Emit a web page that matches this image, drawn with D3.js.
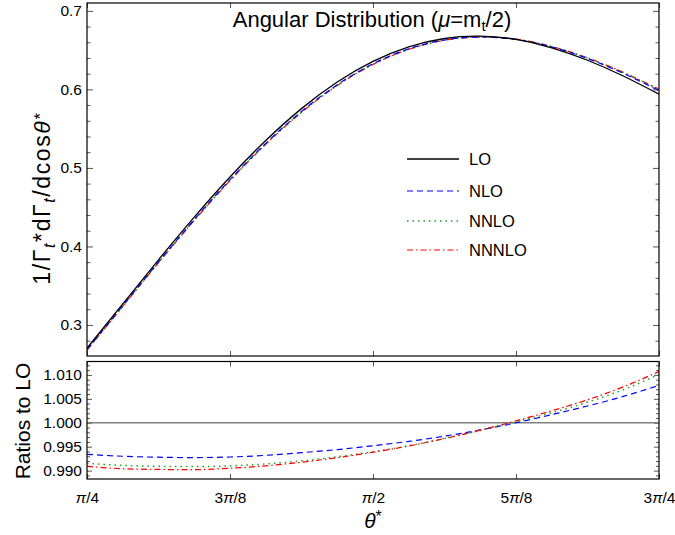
<!DOCTYPE html>
<html>
<head>
<meta charset="utf-8">
<script src="https://cdn.jsdelivr.net/npm/d3@7"></script>
<style>
  html, body { margin: 0; padding: 0; background: #fff; }
  svg { display: block; }
  text { font-family: "Liberation Sans", Arial, sans-serif; fill: #000; }
</style>
</head>
<body>
<svg id="chart" width="675" height="535"></svg>
<script>
// ---------------- data ----------------
// theta in units of pi
const thetaOverPi = [0.25, 0.28125, 0.3125, 0.34375, 0.375, 0.40625, 0.4375, 0.46875, 0.5,
                     0.53125, 0.5625, 0.59375, 0.625, 0.65625, 0.6875, 0.71875, 0.75];
const seriesNames = ["LO", "NLO", "NNLO", "NNNLO"];
const distLO    = [0.2704, 0.3268, 0.3830, 0.4374, 0.4885, 0.5349, 0.5755, 0.6093, 0.6356,
                   0.6541, 0.6648, 0.6677, 0.6636, 0.6530, 0.6371, 0.6170, 0.5939];
const distNLO   = [0.2686, 0.3245, 0.3802, 0.4342, 0.4850, 0.5313, 0.5719, 0.6059, 0.6326,
                   0.6516, 0.6629, 0.6667, 0.6636, 0.6541, 0.6393, 0.6204, 0.5985];
const distNNLO  = [0.2681, 0.3239, 0.3795, 0.4334, 0.4841, 0.5303, 0.5709, 0.6050, 0.6318,
                   0.6510, 0.6626, 0.6666, 0.6637, 0.6544, 0.6398, 0.6213, 0.5999];
const distNNNLO = [0.2679, 0.3237, 0.3793, 0.4331, 0.4839, 0.5301, 0.5707, 0.6049, 0.6317,
                   0.6509, 0.6626, 0.6667, 0.6639, 0.6546, 0.6402, 0.6216, 0.6003];
const ratioNLO   = [0.9934, 0.9930, 0.9928, 0.99273, 0.99285, 0.9932, 0.99375, 0.9944, 0.9952,
                    0.9961, 0.9972, 0.9985, 1.0000, 1.0017, 1.0035, 1.0055, 1.0078];
const ratioNNLO  = [0.9915, 0.9911, 0.9909, 0.99085, 0.9910, 0.9914, 0.99205, 0.9929, 0.99395,
                    0.9952, 0.99675, 0.9984, 1.0002, 1.0021, 1.0043, 1.0069, 1.0101];
const ratioNNNLO = [0.9909, 0.9904, 0.99025, 0.9902, 0.9905, 0.9910, 0.99175, 0.9927, 0.99385,
                    0.99515, 0.9967, 0.99845, 1.0004, 1.0025, 1.0048, 1.0075, 1.0107];
const xTickValues = [0.25, 0.375, 0.5, 0.625, 0.75];
const xTickLabels = ["π/4", "3π/8", "π/2", "5π/8", "3π/4"];
const yTopTicks = [0.3, 0.4, 0.5, 0.6, 0.7];
const yBotTicks = [0.990, 0.995, 1.000, 1.005, 1.010];

// ---------------- layout ----------------
const svg = d3.select("#chart");
const L = 87, R = 659;
const topY0 = 3, topY1 = 356;
const botY0 = 361.5, botY1 = 479;

const x = d3.scaleLinear().domain([0.25, 0.75]).range([L, R]);
const yTop = d3.scaleLinear().domain([0.2605, 0.710]).range([topY1, topY0]);
const yBot = d3.scaleLinear().domain([0.98825, 1.0128]).range([botY1, botY0]);

const styles = [
  { color: "#000000", dash: null, width: 1.3 },
  { color: "#0000ff", dash: "6,4", width: 1.2 },
  { color: "#22a022", dash: "1.5,4", width: 1.5 },
  { color: "#ff0000", dash: "6,3,1.5,3", width: 1.2 }
];
const tickColor = "#555";

// clip paths
const defs = svg.append("defs");
defs.append("clipPath").attr("id", "clipTop").append("rect")
  .attr("x", L).attr("y", topY0).attr("width", R - L).attr("height", topY1 - topY0);
defs.append("clipPath").attr("id", "clipBot").append("rect")
  .attr("x", L).attr("y", botY0).attr("width", R - L).attr("height", botY1 - botY0);

function styleAxis(g) {
  g.select(".domain").remove();
  g.selectAll(".tick line").attr("stroke", tickColor).attr("stroke-width", 1);
  g.selectAll(".tick text").attr("font-size", 15.5).attr("fill", "#000")
    .style("font-family", '"Liberation Sans", Arial, sans-serif');
}

function minorRange(a, b, step) {
  const out = [];
  const n = Math.round((b - a) / step);
  for (let i = 0; i <= n; i++) out.push(+(a + i * step).toFixed(6));
  return out;
}

// ---------- top panel axes ----------
const topMinor = minorRange(0.28, 0.70, 0.02).filter(v => !yTopTicks.some(t => Math.abs(t - v) < 1e-6));
svg.append("g").attr("transform", `translate(${L},0)`)
  .call(d3.axisLeft(yTop).tickValues(topMinor).tickSize(-3.5).tickFormat(""))
  .call(styleAxis);
svg.append("g").attr("transform", `translate(${L},0)`)
  .call(d3.axisLeft(yTop).tickValues(yTopTicks).tickSize(-6).tickPadding(5).tickFormat(d3.format(".1f")))
  .call(styleAxis);
svg.append("g").attr("transform", `translate(${R},0)`)
  .call(d3.axisRight(yTop).tickValues(topMinor).tickSize(-3.5).tickFormat(""))
  .call(styleAxis);
svg.append("g").attr("transform", `translate(${R},0)`)
  .call(d3.axisRight(yTop).tickValues(yTopTicks).tickSize(-6).tickFormat(""))
  .call(styleAxis);
svg.append("g").attr("transform", `translate(0,${topY0})`)
  .call(d3.axisTop(x).tickValues(xTickValues).tickSize(-5).tickFormat(""))
  .call(styleAxis);
svg.append("g").attr("transform", `translate(0,${topY1})`)
  .call(d3.axisBottom(x).tickValues(xTickValues).tickSize(-5).tickFormat(""))
  .call(styleAxis);

// ---------- bottom panel axes ----------
const botMinor = minorRange(0.989, 1.012, 0.001).filter(v => !yBotTicks.some(t => Math.abs(t - v) < 1e-7));
svg.append("g").attr("transform", `translate(${L},0)`)
  .call(d3.axisLeft(yBot).tickValues(botMinor).tickSize(-3).tickFormat(""))
  .call(styleAxis);
svg.append("g").attr("transform", `translate(${L},0)`)
  .call(d3.axisLeft(yBot).tickValues(yBotTicks).tickSize(-5).tickPadding(5).tickFormat(d3.format(".3f")))
  .call(styleAxis);
svg.append("g").attr("transform", `translate(${R},0)`)
  .call(d3.axisRight(yBot).tickValues(botMinor).tickSize(-3).tickFormat(""))
  .call(styleAxis);
svg.append("g").attr("transform", `translate(${R},0)`)
  .call(d3.axisRight(yBot).tickValues(yBotTicks).tickSize(-5).tickFormat(""))
  .call(styleAxis);
svg.append("g").attr("transform", `translate(0,${botY0})`)
  .call(d3.axisTop(x).tickValues(xTickValues).tickSize(-5).tickFormat(""))
  .call(styleAxis);
const xAxisG = svg.append("g").attr("transform", `translate(0,${botY1})`)
  .call(d3.axisBottom(x).tickValues(xTickValues).tickSize(-5).tickPadding(9).tickFormat(""))
  .call(styleAxis);
// x tick labels with italic pi
xAxisG.selectAll(".tick").each(function(d, i) {
  const t = d3.select(this).select("text");
  t.text(null).attr("font-size", 15.5).attr("y", 13).attr("dy", "0.71em");
  const parts = xTickLabels[i].split("π");
  t.append("tspan").text(parts[0]);
  t.append("tspan").attr("font-style", "italic").text("π");
  t.append("tspan").text(parts[1]);
});

// ratio reference line at 1
svg.append("line")
  .attr("x1", L).attr("x2", R).attr("y1", yBot(1)).attr("y2", yBot(1))
  .attr("stroke", "#808080").attr("stroke-width", 1.6);

// ---------- lines ----------
const topData = [distLO, distNLO, distNNLO, distNNNLO];
const botData = [ratioNLO, ratioNNLO, ratioNNNLO];

const lineTop = d3.line().x((d, i) => x(thetaOverPi[i])).y(d => yTop(d)).curve(d3.curveNatural);
const lineBot = d3.line().x((d, i) => x(thetaOverPi[i])).y(d => yBot(d)).curve(d3.curveNatural);

const gTop = svg.append("g").attr("clip-path", "url(#clipTop)");
[3, 2, 1, 0].forEach(s => {
  gTop.append("path").datum(topData[s]).attr("d", lineTop)
    .attr("fill", "none").attr("stroke", styles[s].color)
    .attr("stroke-width", styles[s].width)
    .attr("stroke-dasharray", styles[s].dash);
});
const gBot = svg.append("g").attr("clip-path", "url(#clipBot)");
botData.forEach((arr, j) => {
  const s = j + 1;
  gBot.append("path").datum(arr).attr("d", lineBot)
    .attr("fill", "none").attr("stroke", styles[s].color)
    .attr("stroke-width", styles[s].width)
    .attr("stroke-dasharray", styles[s].dash);
});

// ---------- frames ----------
svg.append("rect").attr("x", L).attr("y", topY0).attr("width", R - L).attr("height", topY1 - topY0)
  .attr("fill", "none").attr("stroke", "#000").attr("stroke-width", 1.2);
svg.append("rect").attr("x", L).attr("y", botY0).attr("width", R - L).attr("height", botY1 - botY0)
  .attr("fill", "none").attr("stroke", "#000").attr("stroke-width", 1.2);

// ---------- title ----------
const title = svg.append("text").attr("x", (L + R) / 2 - 1).attr("y", 27)
  .attr("text-anchor", "middle").attr("font-size", 22);
title.append("tspan").text("Angular Distribution (");
title.append("tspan").attr("font-style", "italic").text("μ");
title.append("tspan").text("=m");
title.append("tspan").attr("font-size", 15).attr("dy", 4).text("t");
title.append("tspan").attr("dy", -4).text("/2)");

// ---------- legend ----------
const legX0 = 407, legX1 = 459, legTX = 469;
const legY = [159, 191, 221, 250];
seriesNames.forEach((name, s) => {
  svg.append("line").attr("x1", legX0).attr("x2", legX1).attr("y1", legY[s]).attr("y2", legY[s])
    .attr("stroke", styles[s].color).attr("stroke-width", styles[s].width)
    .attr("stroke-dasharray", styles[s].dash);
  svg.append("text").attr("x", legTX).attr("y", legY[s]).attr("dy", "0.36em")
    .attr("font-size", 16.5).text(name);
});

// ---------- axis titles ----------
const yl = svg.append("text")
  .attr("transform", `translate(50,198) rotate(-90)`)
  .attr("text-anchor", "middle").attr("font-size", 23).attr("letter-spacing", 1.6);
yl.append("tspan").text("1/Γ");
yl.append("tspan").attr("font-style", "italic").attr("font-size", 16).attr("dy", 5).text("t");
yl.append("tspan").attr("dy", -5).text("*dΓ");
yl.append("tspan").attr("font-style", "italic").attr("font-size", 16).attr("dy", 5).text("t");
yl.append("tspan").attr("dy", -5).text("/dcos");
yl.append("tspan").attr("font-style", "italic").text("θ");
yl.append("tspan").attr("font-size", 17).attr("dy", -4).text("*");

svg.append("text")
  .attr("transform", `translate(30,421) rotate(-90)`)
  .attr("text-anchor", "middle").attr("font-size", 21).text("Ratios to LO");

const xl = svg.append("text").attr("x", (L + R) / 2).attr("y", 528)
  .attr("text-anchor", "middle").attr("font-size", 21);
xl.append("tspan").attr("font-style", "italic").text("θ");
xl.append("tspan").attr("font-size", 16).attr("dy", -6).text("*");
</script>
</body>
</html>
